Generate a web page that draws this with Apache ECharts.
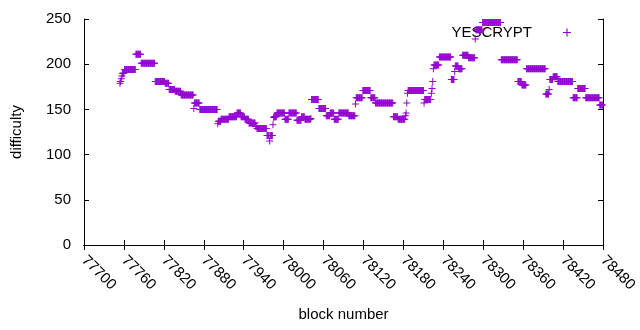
<!DOCTYPE html>
<html>
<head>
<meta charset="utf-8">
<title>YESCRYPT difficulty</title>
<script src="https://cdn.jsdelivr.net/npm/echarts@6/dist/echarts.min.js"></script>
<style>
  html, body { margin: 0; padding: 0; background: #fff; }
  #main { width: 640px; height: 330px; }
</style>
</head>
<body>
<div id="main"></div>
<script>
// 难度按区块分段：每段从 runStart 到 runEnd（含），值为 runValue
var runStart = [77754, 77755, 77756, 77757, 77758, 77761, 77778, 77786, 77807, 77822,
  77828, 77837, 77846, 77865, 77866, 77874, 77901, 77902, 77906, 77918,
  77930, 77936, 77942, 77948, 77958, 77960, 77975, 77979, 77980, 77984,
  77985, 77986, 77990, 78002, 78008, 78020, 78027, 78032, 78041, 78042,
  78053, 78064, 78070, 78076, 78083, 78098, 78108, 78109, 78119, 78131,
  78138, 78165, 78172, 78183, 78184, 78185, 78186, 78187, 78211, 78212,
  78222, 78223, 78224, 78225, 78226, 78234, 78252, 78257, 78258, 78263,
  78269, 78278, 78288, 78289, 78299, 78327, 78352, 78358, 78365, 78394,
  78399, 78400, 78405, 78412, 78435, 78442, 78454, 78475];
var runEnd = [77754, 77755, 77756, 77757, 77760, 77777, 77785, 77806, 77821, 77827,
  77836, 77845, 77864, 77865, 77873, 77900, 77901, 77905, 77917, 77929,
  77935, 77941, 77947, 77957, 77959, 77974, 77978, 77979, 77983, 77984,
  77985, 77989, 78001, 78007, 78019, 78026, 78031, 78040, 78041, 78052,
  78063, 78069, 78075, 78082, 78097, 78107, 78108, 78118, 78130, 78137,
  78164, 78171, 78182, 78183, 78184, 78185, 78186, 78210, 78211, 78221,
  78222, 78223, 78224, 78225, 78233, 78251, 78256, 78257, 78262, 78268,
  78277, 78287, 78288, 78298, 78326, 78351, 78357, 78364, 78393, 78398,
  78399, 78404, 78411, 78434, 78441, 78453, 78474, 78479];
var runValue = [179, 181, 184, 187, 190, 194, 211, 201, 181, 179,
  172, 170, 166, 151, 157, 150, 134, 137, 139, 142,
  146, 142, 139, 135, 131, 129, 121, 115, 121, 133,
  141, 142, 146, 139, 146, 138, 142, 139, 140, 161,
  151, 143, 146, 139, 146, 143, 156, 163, 171, 163,
  157, 142, 139, 143, 146, 157, 168, 171, 157, 161,
  168, 173, 181, 195, 199, 208, 183, 192, 198, 195,
  210, 207, 228, 238, 246, 205, 181, 177, 195, 167,
  172, 183, 186, 181, 163, 173, 163, 155];

// 坐标轴刻度
var xTicks = { min: 77700, max: 78480, interval: 60 };
var yTicks = { min: 0, max: 250, interval: 50 };

var seriesName = "YESCRYPT";
var purple = "#9400d3";
// 加号形状的点（gnuplot 的 "+"）
var plusPath = "path://M3,0H4V3H7V4H4V7H3V4H0V3H3Z";

// 展开成每个区块一个点
var points = [];
for (var i = 0; i < runStart.length; i++) {
  for (var b = runStart[i]; b <= runEnd[i]; b++) {
    points.push([b, runValue[i]]);
  }
}

var font = "Liberation Sans, Arial, sans-serif";
var fs = 15;
var chart = echarts.init(document.getElementById("main"), null, { renderer: "canvas" });

var option = {
  animation: false,
  backgroundColor: "#fff",
  textStyle: { fontFamily: font },
  grid: { left: 84, right: 35, top: 19, bottom: 85, show: false },
  legend: {
    data: [seriesName],
    right: 64,
    top: 20,
    z: 1,
    align: "right",
    icon: plusPath,
    itemWidth: 60,
    itemHeight: 8,
    textStyle: { fontSize: fs, color: "#000", fontFamily: font }
  },
  xAxis: [{
    type: "value",
    min: xTicks.min,
    max: xTicks.max,
    interval: xTicks.interval,
    name: "block number",
    nameLocation: "middle",
    nameGap: 62,
    nameTextStyle: { fontSize: fs, color: "#000" },
    axisLine: { lineStyle: { color: "#000", width: 1 } },
    axisTick: { inside: true, length: 5, lineStyle: { color: "#000" } },
    axisLabel: {
      rotate: -45, margin: 13, fontSize: fs, color: "#000",
      formatter: function (v) { return String(v); } // 不要千分位逗号
    },
    splitLine: { show: false }
  }, {
    // 上边框的镜像刻度
    type: "value",
    position: "top",
    min: xTicks.min,
    max: xTicks.max,
    interval: xTicks.interval,
    axisLine: { lineStyle: { color: "#000", width: 1 } },
    axisTick: { inside: true, length: 5, lineStyle: { color: "#000" } },
    axisLabel: { show: false },
    splitLine: { show: false }
  }],
  yAxis: [{
    type: "value",
    min: yTicks.min,
    max: yTicks.max,
    interval: yTicks.interval,
    name: "difficulty",
    nameLocation: "middle",
    nameGap: 60,
    nameTextStyle: { fontSize: fs, color: "#000" },
    axisLine: { show: true, lineStyle: { color: "#000", width: 1 } },
    axisTick: { show: true, inside: true, length: 5, lineStyle: { color: "#000" } },
    axisLabel: { margin: 13, fontSize: fs, color: "#000" },
    splitLine: { show: false }
  }, {
    // 右边框的镜像刻度
    type: "value",
    position: "right",
    min: yTicks.min,
    max: yTicks.max,
    interval: yTicks.interval,
    axisLine: { show: true, lineStyle: { color: "#000", width: 1 } },
    axisTick: { show: true, inside: true, length: 5, lineStyle: { color: "#000" } },
    axisLabel: { show: false },
    splitLine: { show: false }
  }],
  series: [{
    name: seriesName,
    type: "scatter",
    xAxisIndex: 0,
    yAxisIndex: 0,
    symbol: plusPath,
    symbolSize: 7,
    z: 2,
    itemStyle: { color: purple, opacity: 1 },
    data: points
  }]
};

chart.setOption(option);
</script>
</body>
</html>
